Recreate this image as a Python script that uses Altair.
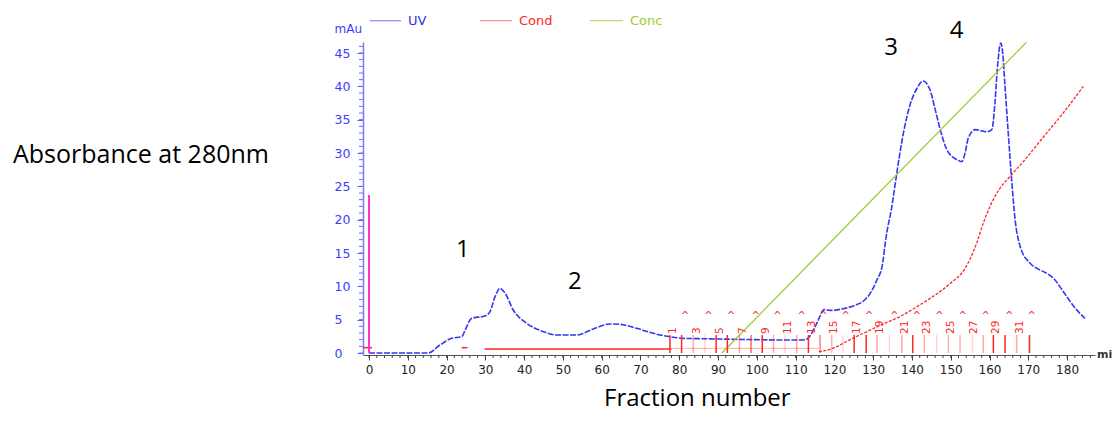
import altair as alt
import pandas as pd

# ---------------- data ----------------
uv_x = [0, 5, 10, 15.2, 18.3, 21.3, 23.9, 24.8, 26.5, 29.9, 31.2, 32.5, 33.8, 35.1, 37.2,
        40.7, 45, 48.4, 53.6, 57.8, 62.1, 64.7, 69, 73.3, 77.6, 81, 85, 90, 95, 100, 105,
        110, 112.5, 113.5, 115.5, 117.4, 119, 122, 125, 127.5, 129.5, 131, 132.2, 133.5,
        134.8, 136.1, 137.8, 139.5, 141.2, 142.9, 144.7, 146, 147.3, 149, 151.6, 152.8,
        153.7, 154.5, 156.3, 159.3, 160.6, 161.4, 162, 162.9, 163.4, 164, 164.9, 165.7,
        166.6, 167.9, 170.4, 172.2, 174.3, 176.5, 179.5, 182, 184.6]
uv_y = [0, 0, 0, 0, 1.2, 2.2, 2.45, 3.45, 5.2, 5.55, 6.2, 8.45, 9.7, 8.95, 6.45,
        4.45, 3.2, 2.7, 2.7, 3.6, 4.35, 4.3, 3.7, 2.95, 2.45, 2.2, 2.15, 2.1, 2.05, 2.0, 1.95,
        1.95, 2.0, 2.4, 4.5, 6.5, 6.4, 6.6, 7.1, 7.8, 9.2, 11, 12.7, 18,
        21.9, 27, 33, 37.2, 39.6, 40.8, 39.4, 36.5, 33.5, 30.5, 29, 28.7,
        30, 32.2, 33.5, 33.2, 33.5, 37.5, 42.5, 46.5, 45, 40, 32.4, 26,
        20, 16, 13.5, 12.7, 12.1, 11.2, 8.8, 6.8, 5.2]

cond_flat_x = [-1.5, 0.8, 23.9, 25.4, 29.8, 78]
cond_flat_y = [0.8, 0.8, 0.8, 0.8, 0.6, 0.6]
cond_flat_seg = ["a", "a", "b", "b", "c", "c"]
cond_light_x = [78, 116]
cond_light_y = [0.7, 0.7]
cond_rise_x = [116, 118, 120, 124, 128, 132, 137, 142, 146, 150, 153.7, 156.7, 158.4,
               161.9, 165.3, 168.7, 173.9, 179, 184.2]
cond_rise_y = [0.2, 0.4, 0.8, 2.0, 3.1, 4.2, 5.5, 7.2, 8.7, 10.5, 12.7, 16.5, 19.5,
               24, 26.5, 28.7, 32.4, 36, 40]

conc_x = [91, 169.5]
conc_y = [0, 46.6]

frac_x = [77.6, 80.6, 83.6, 86.6, 89.5, 92.4, 95.5, 98.5, 101.4, 104.3, 107.3, 110.3,
          113.3, 116.3, 119.3, 122.2, 125.1, 128.2, 131.0, 134.2, 137.4, 140.2, 143.2,
          146.4, 149.4, 152.4, 155.6, 158.4, 161.0, 164.0, 167.0, 170.3]
frac_alpha = [1, 1, .4, .2, 1, 1, .4, .7, 1, .4, .2, .4, 1, .6, .35, .2, 1, 1, .4, .2,
              .4, 1, .4, .2, .35, .35, .2, .4, 1, 1, .4, 1]
frac_labels = ["1", "3", "5", "7", "9", "11", "13", "15", "17", "19", "21", "23", "25",
               "27", "29", "31"]
frac_label_x = [78.4, 84.6, 90.4, 96.4, 102.4, 108.0, 114.2, 119.9, 125.9, 131.7, 138.2,
                144.0, 150.0, 156.0, 161.8, 167.9]
caret_x = [81.5, 87.5, 93.3, 99.7, 105.3, 111.6, 117.2, 122.9, 129.0, 135.5, 141.2,
           147.1, 153.1, 159.0, 165.1, 170.9]

peak_labels = ["1", "2", "3", "4"]
peak_x = [24.2, 53.1, 134.6, 151.5]
peak_y = [15.45, 10.7, 45.7, 48.3]

x_ticks = list(range(0, 181, 10))
x_minor = list(range(0, 188, 2))
y_ticks = list(range(0, 46, 5))
y_minor = list(range(0, 47, 1))

# ---------------- chart ----------------
W, H = 732, 313
xs = alt.Scale(domain=[-1.55, 187.2], nice=False, zero=False)
ys = alt.Scale(domain=[-0.3, 46.65], nice=False, zero=False)

AX = alt.Axis(values=x_ticks, format="d", tickSize=5, tickColor="#444", domainColor="#555",
              labelFont="DejaVu Sans", labelFontSize=12, labelColor="#222", labelPadding=4,
              grid=False, title=None, labelFlush=False)
AY = alt.Axis(values=y_ticks, tickSize=6, tickColor="#5a5aff", domainColor="#7b7bff",
              domainWidth=1.5, labelColor="#3c3cff", labelFontSize=12.5, labelFont="DejaVu Sans",
              labelAlign="left", labelPadding=23, grid=False, title=None, labelFlush=False)

BLUE = "#3636f2"
RED = "#ff2626"
GREEN = "#9acd32"


def X(f):
    return alt.X(f, type="quantitative", scale=xs, axis=AX)


def Y(f):
    return alt.Y(f, type="quantitative", scale=ys, axis=AY)


def XD(v):
    return alt.XDatum(v, scale=xs, axis=AX, type="quantitative")


def YD(v):
    return alt.YDatum(v, scale=ys, axis=AY, type="quantitative")


one = pd.DataFrame({"a": [0]})

uv = alt.Chart(pd.DataFrame({"x": uv_x, "y": uv_y})).mark_line(
    color=BLUE, strokeWidth=1.6, strokeDash=[6, 1.5], interpolate="monotone"
).encode(x=X("x"), y=Y("y"))

xminor = alt.Chart(pd.DataFrame({"x": x_minor})).mark_rule(color="#444", strokeWidth=1).encode(
    x=X("x"), y=alt.value(H), y2=alt.value(H + 3))
yminor = alt.Chart(pd.DataFrame({"y": y_minor})).mark_rule(color="#6a6aff", strokeWidth=1).encode(
    y=Y("y"), x=alt.value(-4), x2=alt.value(0))

cond_flat = alt.Chart(pd.DataFrame({"x": cond_flat_x, "y": cond_flat_y, "s": cond_flat_seg})).mark_line(
    color=RED, strokeWidth=1.5).encode(x=X("x"), y=Y("y"), detail="s:N")
cond_light = alt.Chart(pd.DataFrame({"x": cond_light_x, "y": cond_light_y})).mark_line(
    color=RED, strokeWidth=1.2, opacity=0.3).encode(x=X("x"), y=Y("y"))
cond_rise = alt.Chart(pd.DataFrame({"x": cond_rise_x, "y": cond_rise_y})).mark_line(
    color=RED, strokeWidth=1.3, strokeDash=[3, 1.5], interpolate="monotone").encode(x=X("x"), y=Y("y"))

conc = alt.Chart(pd.DataFrame({"x": conc_x, "y": conc_y})).mark_line(
    color=GREEN, strokeWidth=1.3).encode(x=X("x"), y=Y("y"))

frac = alt.Chart(pd.DataFrame({"x": frac_x, "o": frac_alpha})).mark_rule(
    color=RED, strokeWidth=1.5).encode(
    x=X("x"), y=YD(0), y2=alt.datum(2.7), opacity=alt.Opacity("o:Q", scale=None))

frac_text = alt.Chart(pd.DataFrame({"x": frac_label_x, "t": frac_labels})).mark_text(
    angle=270, align="left", baseline="middle", color=RED, fontSize=10.5, font="DejaVu Sans"
).encode(x=X("x"), y=YD(2.85), text="t:N")

carets = alt.Chart(pd.DataFrame({"x": caret_x})).mark_text(
    text="^", align="center", baseline="middle", color=RED, fontSize=10, font="DejaVu Sans"
).encode(x=X("x"), y=YD(5.6))

marker = alt.Chart(one).mark_rule(color="#ff33cc", strokeWidth=2).encode(
    x=XD(0), y=YD(0), y2=alt.datum(23.7))

peaks = alt.Chart(pd.DataFrame({"x": peak_x, "y": peak_y, "t": peak_labels})).mark_text(
    font="Open Sans", fontSize=24, color="#000", align="center", baseline="middle"
).encode(x=X("x"), y=Y("y"), text="t:N")


def label(txt, x, y, color, size, font="DejaVu Sans", align="left", weight="normal"):
    return alt.Chart(one).mark_text(
        text=txt, color=color, fontSize=size, font=font, align=align,
        baseline="middle", fontWeight=weight
    ).encode(x=alt.value(x), y=alt.value(y))


def legline(x1, x2, y, color):
    return alt.Chart(one).mark_rule(color=color, strokeWidth=1.2).encode(
        x=alt.value(x1), x2=alt.value(x2), y=alt.value(y))


annots = [
    label("mAu", -1, -13, "#3c3cff", 12, align="right"),
    legline(7, 38, -21.3, "#8a8aff"),
    label("UV", 45, -21.5, "#2f2fe6", 13),
    legline(117, 149, -21.3, "#ff8a8a"),
    label("Cond", 156, -21.5, RED, 13),
    legline(227, 260, -21.3, "#b8dc7a"),
    label("Conc", 267, -21.5, GREEN, 13),
    label("Absorbance at 280nm", -350, 113, "#000", 25, font="Open Sans"),
    label("Fraction number", 241, 357, "#000", 24, font="Open Sans"),
    label("mi", 734, 313, "#333", 11, weight="bold"),
]

chart = alt.layer(
    uv, xminor, yminor, cond_light, cond_flat, cond_rise, conc, frac, frac_text, carets,
    marker, peaks, *annots
).properties(
    width=W, height=H,
    padding={"left": 355, "top": 34, "right": 17, "bottom": 59},
    autosize=alt.AutoSizeParams(type="none"),
    background="white",
).configure_view(stroke=None)

chart.save("out.html", embed_options={"renderer": "svg", "actions": False})
